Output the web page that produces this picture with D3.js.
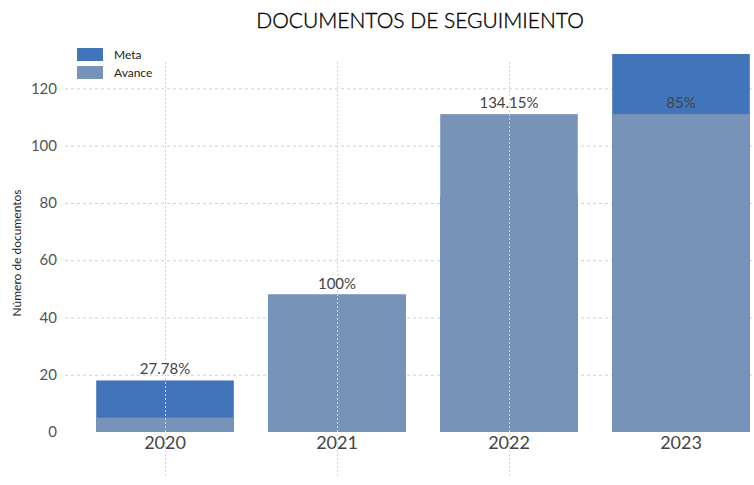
<!DOCTYPE html>
<html>
<head>
<meta charset="utf-8">
<script src="https://cdn.jsdelivr.net/npm/d3@7"></script>
<style>
  html, body { margin: 0; padding: 0; background: #fff; }
  svg { display: block; font-family: Lato, "Noto Sans", sans-serif; }
</style>
</head>
<body>
<svg id="chart" width="754" height="485"></svg>
<script>
const years = ["2020", "2021", "2022", "2023"];
const meta = [18, 48, 82, 132];
const avance = [5, 48, 111, 111];
const pctLabels = ["27.78%", "100%", "134.15%", "85%"];
const yTicks = [0, 20, 40, 60, 80, 100, 120];
const seriesNames = ["Meta", "Avance"];
const seriesColors = ["#4274b9", "#7793b8"];

const svg = d3.select("#chart");
const plot = { left: 65, right: 754, top: 54, bottom: 432 };
const FONT = "Lato, 'Noto Sans', sans-serif";

const x = d3.scaleBand().domain(years).range([79, 767]).paddingInner(0.2).paddingOuter(0.1);
const y = d3.scaleLinear().domain([0, d3.max(meta)]).range([plot.bottom, plot.top]);

// title
svg.append("text")
  .attr("x", 420).attr("y", 28)
  .attr("text-anchor", "middle")
  .attr("font-size", 21).attr("font-weight", 300)
  .attr("fill", "#000").attr("stroke", "#000").attr("stroke-width", 0.35)
  .text("DOCUMENTOS DE SEGUIMIENTO");

// horizontal grid (behind bars)
svg.append("g").selectAll("line").data(yTicks.filter(d => d > 0)).join("line")
  .attr("x1", plot.left).attr("x2", plot.right)
  .attr("y1", d => y(d) + 0.5).attr("y2", d => y(d) + 0.5)
  .attr("stroke", "#d0d0d0").attr("stroke-width", 1).attr("stroke-dasharray", "3,3");

// y axis
const yAxis = svg.append("g").attr("transform", `translate(${plot.left - 8},0)`)
  .call(d3.axisLeft(y).tickValues(yTicks).tickSize(0).tickPadding(0));
yAxis.select(".domain").remove();
yAxis.selectAll("text").attr("font-size", 15).attr("fill", "#555")
  .attr("font-family", FONT);

// axis title
svg.append("text")
  .attr("transform", `translate(21,${(plot.top + plot.bottom) / 2 + 10}) rotate(-90)`)
  .attr("text-anchor", "middle")
  .attr("font-size", 12).attr("fill", "#222")
  .text("Número de documentos");

// bars
const data = years.map((yr, i) => ({ yr, meta: meta[i], avance: avance[i], label: pctLabels[i] }));
svg.append("g").selectAll("rect").data(data).join("rect")
  .attr("x", d => x(d.yr)).attr("width", x.bandwidth())
  .attr("y", d => y(d.meta)).attr("height", d => y(0) - y(d.meta))
  .attr("fill", seriesColors[0]);
svg.append("g").selectAll("rect").data(data).join("rect")
  .attr("x", d => x(d.yr)).attr("width", x.bandwidth())
  .attr("y", d => y(d.avance)).attr("height", d => y(0) - y(d.avance))
  .attr("fill", seriesColors[1]);

// vertical grid (over bars)
svg.append("g").selectAll("line").data(years.slice(0, 3)).join("line")
  .attr("x1", d => x(d) + x.bandwidth() / 2 + 0.5).attr("x2", d => x(d) + x.bandwidth() / 2 + 0.5)
  .attr("y1", 62).attr("y2", 476)
  .attr("stroke", "#d4d4d4").attr("stroke-width", 1).attr("stroke-dasharray", "2,2");

// percent labels
svg.append("g").selectAll("text").data(data).join("text")
  .attr("x", d => x(d.yr) + x.bandwidth() / 2)
  .attr("y", d => {
    const top = Math.max(d.meta, d.avance);
    const v = (y(top) - 20 < plot.top) ? d.avance : top;
    return y(v) - 6;
  })
  .attr("text-anchor", "middle")
  .attr("font-size", 15).attr("fill", "#444")
  .text(d => d.label);

// x axis labels
const xAxis = svg.append("g").attr("transform", `translate(0,${plot.bottom})`)
  .call(d3.axisBottom(x).tickSize(0).tickPadding(4));
xAxis.select(".domain").remove();
xAxis.selectAll("text").attr("font-size", 18).attr("fill", "#444")
  .attr("font-family", FONT);

// legend
const legend = svg.append("g");
seriesNames.forEach((name, i) => {
  legend.append("rect")
    .attr("x", 77).attr("y", 48 + i * 18)
    .attr("width", 26).attr("height", 13)
    .attr("fill", seriesColors[i]);
  legend.append("text")
    .attr("x", 114).attr("y", 58.5 + i * 18)
    .attr("font-size", 12).attr("fill", "#222")
    .text(name);
});
</script>
</body>
</html>
